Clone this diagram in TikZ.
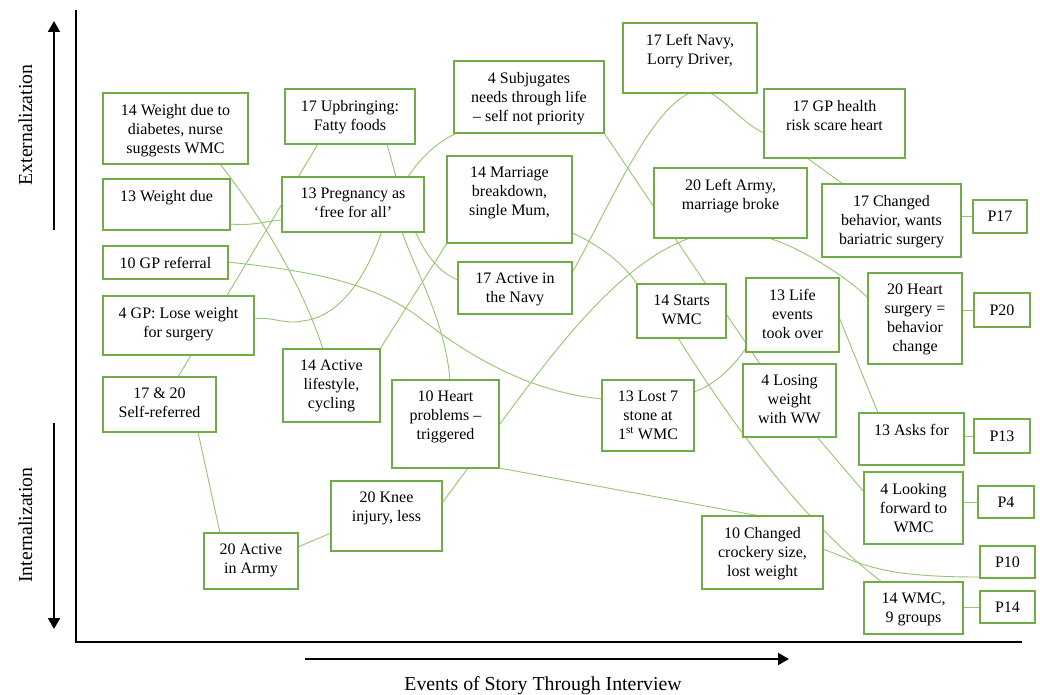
\documentclass[tikz,border=0pt]{standalone}
\usepackage{fontspec}
\setmainfont{Liberation Serif}
\usetikzlibrary{arrows.meta,calc}
\definecolor{boxgreen}{RGB}{112,173,71}
\definecolor{linegreen}{RGB}{150,198,112}
\pgfdeclarelayer{bg}
\pgfsetlayers{bg,main}
\tikzset{
  box/.style={draw=boxgreen, line width=2.2pt, fill=white, inner sep=0pt, outer sep=0pt},
  txt/.style={font=\fontsize{16}{19}\selectfont, align=center, inner sep=0pt},
  conn/.style={draw=linegreen, line width=0.9pt},
  axis/.style={draw=black, line width=2.5pt},
  arr/.style={draw=black, line width=2pt, -{Triangle[length=11pt,width=12pt]}},
  axlabel/.style={font=\fontsize{19.8}{23}\selectfont, inner sep=0pt}
}
\newcommand{\mybox}[6]{%
  \pgfmathsetmacro{\bw}{#4-#2}%
  \pgfmathsetmacro{\bh}{#5-#3}%
  \node[box, minimum width=\bw pt, minimum height=\bh pt, anchor=north west] (#1) at (#2,#3) {};%
  \node[txt, anchor=north] (#1t) at ([yshift=-11pt]#1.north) {#6};%
}
\newcommand{\mypbox}[6]{%
  \pgfmathsetmacro{\bw}{#4-#2}%
  \pgfmathsetmacro{\bh}{#5-#3}%
  \node[box, minimum width=\bw pt, minimum height=\bh pt, anchor=north west] (#1) at (#2,#3) {};%
  \node[txt] (#1t) at (#1.center) {#6};%
}
\begin{document}
\begin{tikzpicture}[x=1pt,y=-1pt]
\useasboundingbox (0,0) rectangle (1040,695);
\begin{pgfonlayer}{bg}
\fill[white] (0,0) rectangle (1040,695);
\end{pgfonlayer}

% axes
\coordinate (vtop) at (76,10);
\coordinate (vbot) at (76,643);
\coordinate (hend) at (1022,642);
\draw[axis] (vtop) -- (vbot);
\draw[axis] (74.75,642) -- (hend);
\coordinate (ua) at (54,230);
\coordinate (ub) at (54,21);
\coordinate (da) at (54,423);
\coordinate (db) at (54,629);
\coordinate (ha) at (305,659);
\coordinate (hb) at (789,659);
\draw[arr] (ua) -- (ub);
\draw[arr] (da) -- (db);
\draw[arr] (ha) -- (hb);
\node[axlabel, rotate=90, anchor=base] (ext) at (32,125) {Externalization};
\node[axlabel, rotate=90, anchor=base] (int) at (32,525) {Internalization};
\node[axlabel, anchor=base] (events) at (543,690) {Events of Story Through Interview};

% boxes
\mybox{b14a}{103}{93}{248}{164}{14 Weight due to\\diabetes, nurse\\suggests WMC}
\mybox{b13a}{103}{179}{230}{230}{13 Weight due}
\mybox{b10a}{103}{246}{228}{279}{10 GP referral}
\mybox{b4a}{103}{296}{254}{355}{4 GP: Lose weight\\for surgery}
\mybox{bself}{103}{377}{216}{432}{17 \& 20\\Self-referred}
\mybox{b17a}{285}{89}{415}{144}{17 Upbringing:\\Fatty foods}
\mybox{b13b}{282}{177}{424}{232}{13 Pregnancy as\\‘free for all’}
\mybox{b4b}{454}{61}{604}{133}{4 Subjugates\\needs through life\\– self not priority}
\mybox{b14b}{447}{156}{572}{243}{14 Marriage\\breakdown,\\single Mum,}
\mybox{b17b}{623}{23}{757}{93}{17 Left Navy,\\Lorry Driver,}
\mybox{b17c}{764}{89}{905}{158}{17 GP health\\risk scare heart}
\mybox{b20a}{654}{168}{807}{238}{20 Left Army,\\marriage broke}
\mybox{b17d}{822}{184}{961}{257}{17 Changed\\behavior, wants\\bariatric surgery}
\mypbox{p17}{973}{200}{1027}{233}{P17}
\mybox{b17e}{458}{262}{572}{314}{17 Active in\\the Navy}
\mybox{b14c}{283}{349}{380}{422}{14 Active\\lifestyle,\\cycling}
\mybox{b10b}{392}{380}{499}{468}{10 Heart\\problems –\\triggered}
\mybox{b13c}{602}{380}{694}{451}{13 Lost 7\\stone at\\1\textsuperscript{st} WMC}
\mybox{b14d}{637}{284}{726}{338}{14 Starts\\WMC}
\mybox{b13d}{746}{278}{839}{352}{13 Life\\events\\took over}
\mybox{b20b}{868}{273}{962}{364}{20 Heart\\surgery =\\behavior\\change}
\mypbox{p20}{974}{293}{1030}{327}{P20}
\mybox{b4c}{743}{364}{836}{437}{4 Losing\\weight\\with WW}
\mybox{b13e}{859}{413}{964}{465}{13 Asks for}
\mypbox{p13}{974}{419}{1030}{453}{P13}
\mybox{b4d}{864}{472}{963}{544}{4 Looking\\forward to\\WMC}
\mypbox{p4}{978}{486}{1034}{518}{P4}
\mybox{b10c}{702}{516}{823}{589}{10 Changed\\crockery size,\\lost weight}
\mypbox{p10}{980}{546}{1035}{578}{P10}
\mybox{b14e}{864}{582}{963}{634}{14 WMC,\\9 groups}
\mypbox{p14}{980}{591}{1035}{623}{P14}
\mybox{b20c}{331}{481}{442}{551}{20 Knee\\injury, less}
\mybox{b20d}{204}{533}{298}{589}{20 Active\\in Army}

% connectors (behind boxes)
\begin{pgfonlayer}{bg}
\draw[conn] ([xshift=117pt]b14a.south west) .. controls (260,215) and (300,280) .. ([xshift=40pt]b14c.north west);
\draw[conn] ([yshift=-45pt]b13a.north east) .. controls (255,226) and (265,221) .. ([yshift=-43pt]b13b.north west);
\draw[conn] ([xshift=75pt]bself.north west) -- ([xshift=33pt]b17a.south west);
\draw[conn] ([xshift=102pt]b17a.south west) .. controls (405,210) and (420,265) .. ([yshift=-18pt]b17e.north west);
\draw[conn] ([xshift=120pt]b13b.south west) .. controls (415,270) and (445,320) .. ([xshift=58pt]b10b.north west);
\draw[conn] ([yshift=-23pt]b4a.north east) .. controls (272,316) and (285,325) .. (302,321) .. controls (335,318) and (365,285) .. (385,222) .. controls (400,185) and (420,150) .. ([xshift=3pt]b4b.south west);
\draw[conn] (b4b.south east) -- ([xshift=17pt]b4c.north west);
\draw[conn] ([xshift=-19pt]b4c.south east) -- ([yshift=-20pt]b4d.north west);
\draw[conn] (b4d.east |- p4.west) -- (p4.west);
\draw[conn] ([yshift=-16pt]b10a.north east) .. controls (300,270) and (370,280) .. (420,318) .. controls (470,357) and (530,392) .. ([yshift=-19pt]b13c.north west);
\draw[conn] ([yshift=-12pt]b13c.north east) .. controls (715,385) and (735,365) .. ([yshift=-70pt]b13d.north west);
\draw[conn] ([yshift=-39pt]b13d.north east) -- ([xshift=19pt]b13e.north west);
\draw[conn] (b13e.east |- p13.west) -- (p13.west);
\draw[conn] (b14c.north east) -- (b14b.south west);
\draw[conn] ([yshift=10pt]b14b.south east) .. controls (600,245) and (625,265) .. (b14d.north west);
\draw[conn] ([xshift=41pt]b14d.south west) .. controls (730,420) and (800,520) .. ([xshift=18pt]b14e.north west);
\draw[conn] (b14e.east |- p14.west) -- (p14.west);
\draw[conn] (b10b.south east) -- ([xshift=58pt]b10c.north west);
\draw[conn] ([yshift=-33pt]b10c.north east) .. controls (865,565) and (880,577) .. ([yshift=-31pt]p10.north west);
\draw[conn] ([yshift=-11pt]b17e.north east) .. controls (610,205) and (650,110) .. ([xshift=67pt]b17b.south west);
\draw[conn] ([xshift=87pt]b17b.south west) .. controls (725,100) and (745,125) .. ([yshift=-44pt]b17c.north west);
\draw[conn] ([xshift=43pt]b17c.south west) -- ([xshift=21pt]b17d.north west);
\draw[conn] (b17d.east |- p17.west) -- (p17.west);
\draw[conn] ([xshift=95pt]bself.south west) -- ([xshift=16pt]b20d.north west);
\draw[conn] ([yshift=-14pt]b20d.north east) -- ([yshift=-52pt]b20c.north west);
\draw[conn] ([yshift=-22pt]b20c.north east) .. controls (520,400) and (600,270) .. ([xshift=36pt]b20a.south west);
\draw[conn] ([xshift=114pt]b20a.south west) .. controls (795,245) and (845,275) .. ([yshift=-25pt]b20b.north west);
\draw[conn] (b20b.east |- p20.west) -- (p20.west);
\end{pgfonlayer}
\end{tikzpicture}
\end{document}
